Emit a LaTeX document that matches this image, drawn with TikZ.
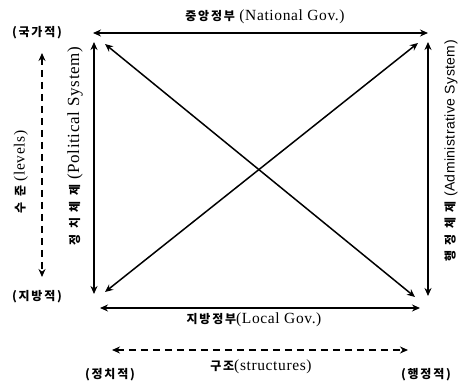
\documentclass[tikz,border=0pt]{standalone}
\usepackage{fontspec}
\setmainfont[LetterSpace=4]{Liberation Serif}
\setsansfont[LetterSpace=3]{Liberation Sans}
\newfontfamily\krfont[LetterSpace=15]{Noto Sans CJK KR}
\newfontfamily\krwide[LetterSpace=45]{Noto Sans CJK KR}
\newcommand{\kr}[1]{{\krfont\bfseries\fontsize{12}{14}\selectfont #1}}
\newcommand{\krw}[1]{{\krwide\bfseries\fontsize{12}{14}\selectfont #1}}
\usetikzlibrary{arrows.meta}

\begin{document}
\begin{tikzpicture}[x=1pt,y=-1pt,font=\fontsize{15.5}{18}\selectfont,
    every edge/.style={draw,line width=1.5pt},
    tip/.style={{Stealth[length=8pt,width=7pt]}-{Stealth[length=8pt,width=7pt]}},
    dashtip/.style={tip,dash pattern=on 7pt off 5pt,line width=1.3pt}]
    \useasboundingbox (0,0) rectangle (463,384);
    \coordinate (N0) at (93,33);
    \coordinate (N1) at (428,33);
    \coordinate (N2) at (94,42);
    \coordinate (N3) at (94,294);
    \coordinate (N4) at (428,42);
    \coordinate (N5) at (428,296);
    \coordinate (N6) at (100,308);
    \coordinate (N7) at (420,308);
    \coordinate (N8) at (105,44);
    \coordinate (N9) at (415,297);
    \coordinate (N10) at (105,292);
    \coordinate (N11) at (418,43);
    \coordinate (N12) at (42,53);
    \coordinate (N13) at (42,277);
    \coordinate (N14) at (112,350);
    \coordinate (N15) at (408,350);
    \node (L0) at (265,17) {\kr{중앙정부} (National Gov.)};
    \node (L1) at (254,320) {\kr{지방정부}(Local Gov.)};
    \node (L2) at (37,33) {\kr{(국가적)}};
    \node (L3) at (37,297) {\kr{(지방적)}};
    \node[rotate=90] (L4) at (21,172) {\krw{수준} (levels)};
    \node[rotate=90,font=\fontsize{17}{19}\selectfont] (L5) at (75,146) {\krw{정치체제} (Political\ System)};
    \node[rotate=90] (L6) at (451,151) {\krw{행정체제} \sffamily\fontsize{14}{16}\selectfont(Administrative\ System)};
    \node (L7) at (261,367) {\kr{구조}(structures)};
    \node (L8) at (110,375) {\kr{(정치적)}};
    \node (L9) at (426,375) {\kr{(행정적)}};
    \path[tip] (N0) edge (N1) (N2) edge (N3) (N4) edge (N5) (N6) edge (N7);
    \path[tip] (N8) edge (N9) (N10) edge (N11);
    \path[dashtip] (N12) edge (N13) (N14) edge (N15);
\end{tikzpicture}
\end{document}
